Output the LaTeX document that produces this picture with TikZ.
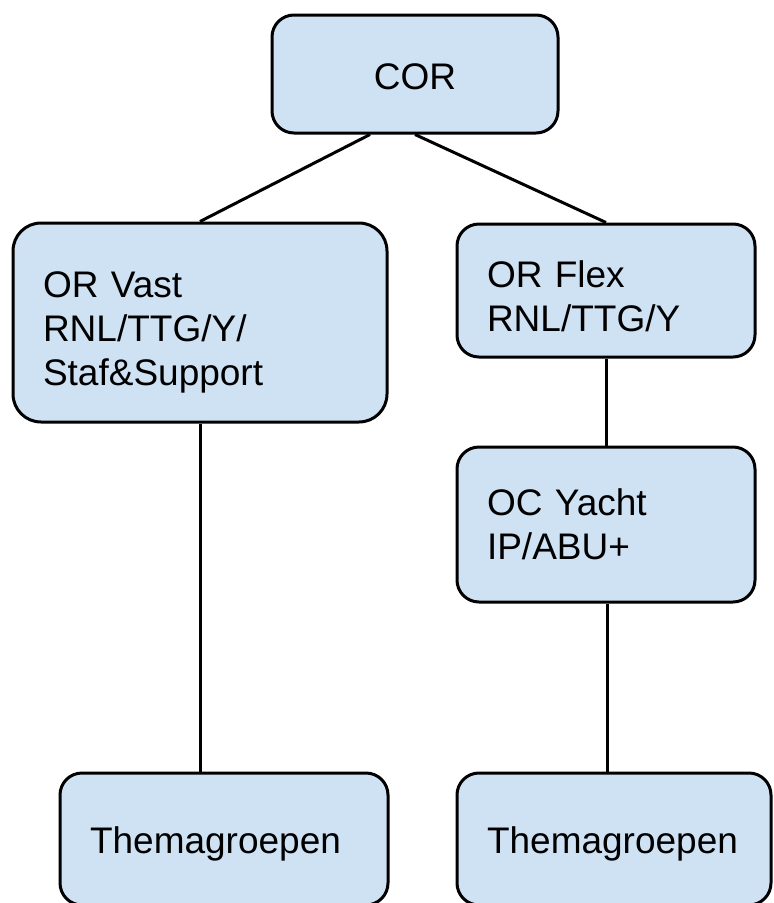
\documentclass[tikz,border=0pt]{standalone}
\usepackage{fontspec}
\setmainfont{Liberation Sans}
\usetikzlibrary{arrows.meta}
\usetikzlibrary{calc}
\definecolor{boxblue}{RGB}{207,226,243}

\begin{document}
\begin{tikzpicture}[x=1pt, y=-1pt, line width=3pt,
        box_style/.style={rectangle, rounded corners=22pt, draw=black, fill=boxblue, inner xsep=30pt, inner ysep=0pt, align=left, font=\fontsize{37}{44}\selectfont},
        text_down/.style={execute at begin node={\rule{0pt}{#1}}},
        edge_style/.style={draw=black, line width=3pt}]

        \useasboundingbox (0,0) rectangle (774,903);

        \node [box_style, align=center, minimum width=286pt, minimum height=118pt, text_down=31pt](cor) at (415,74) {COR};

        \node [box_style, rounded corners=28pt, text width=314pt, minimum height=199pt, text_down=45pt](vast) at (200,322.5) {OR Vast\\RNL/TTG/Y/\\Staf\&Support};

        \node [box_style, text width=238pt, minimum height=133pt, text_down=39pt](flex) at (606,290.5) {OR Flex\\RNL/TTG/Y};

        \node [box_style, text width=238pt, minimum height=155pt](yacht) at (606,524.5) {OC Yacht\\IP/ABU+};

        \node [box_style, text width=268pt, minimum height=132pt, text_down=37pt](them_left) at (224,839) {Themagroepen};

        \node [box_style, text width=254pt, minimum height=132pt, text_down=37pt](them_right) at (614,839) {Themagroepen};

        \draw [edge_style] ([xshift=-45pt]cor.south) -- (vast.north);

        \draw [edge_style] (cor.south) -- (flex.north);

        \draw [edge_style] (vast.south) -- (vast.south |- them_left.north);

        \draw [edge_style] (flex.south) -- (yacht.north);

        \draw [edge_style] ([xshift=1pt]yacht.south) -- ([xshift=1pt]yacht.south |- them_right.north);

        \end{tikzpicture}
\end{document}
